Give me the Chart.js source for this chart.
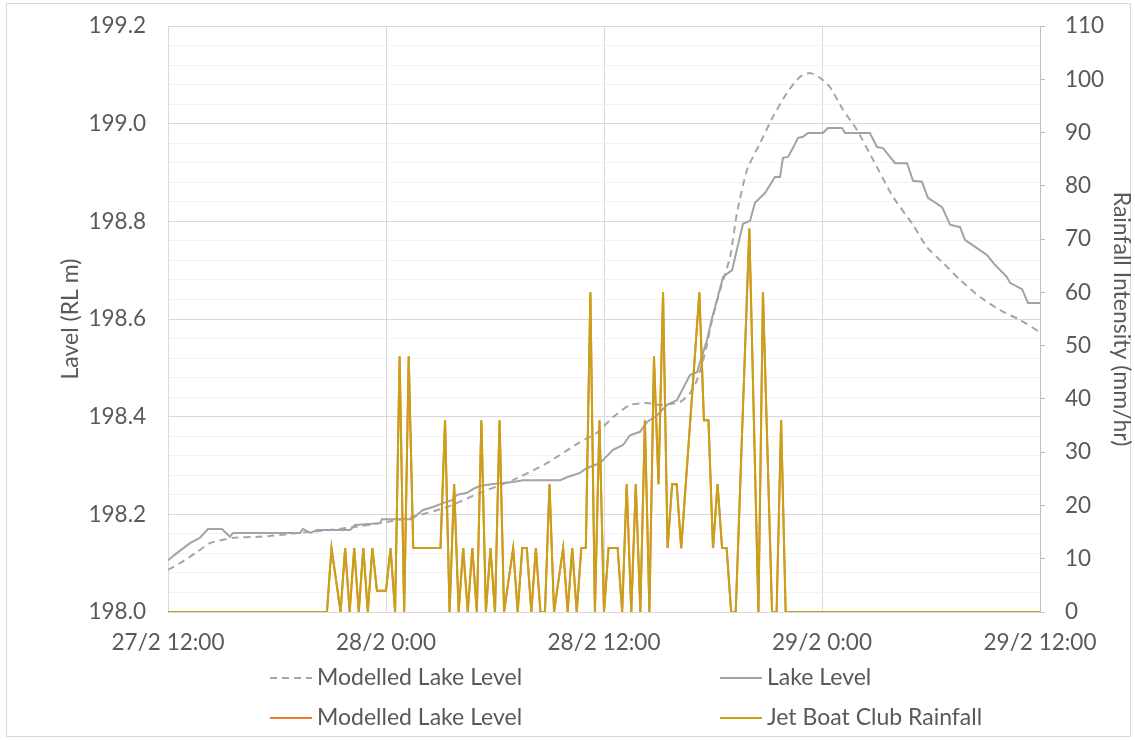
<!DOCTYPE html>
<html>
<head>
<meta charset="utf-8">
<script src="https://cdn.jsdelivr.net/npm/chart.js@4"></script>
<style>
  html, body { margin: 0; padding: 0; background: #fff; }
  #wrap { position: relative; width: 1135px; height: 740px; }
  #frame { position: absolute; left: 6px; top: 3px; width: 1125px; height: 734px; border: 1px solid #d9d9d9; box-sizing: border-box; }
  canvas { position: absolute; left: 0; top: 0; }
</style>
</head>
<body>
<div id="wrap">
  <div id="frame"></div>
  <canvas id="lakeChart" width="1135" height="740"></canvas>
</div>
<script>
// hours after 27/2 12:00
const xTickLabels = ['27/2 12:00', '28/2 0:00', '28/2 12:00', '29/2 0:00', '29/2 12:00'];

const modelTimes = [0, 0.66, 1.6, 2.31, 3.58, 5.06, 7.27, 9.85, 11.67, 13.49, 15.36, 17.17, 18.99, 20.86, 22.68,
  23.61, 24.5, 25.43, 26.37, 27.08, 28.18, 28.73, 29.12, 29.56, 29.95, 30.39, 30.94, 31.32, 31.87, 32.59, 33.3,
  34.07, 34.79, 35.34, 35.89, 36.44, 37.16, 37.93, 38.81, 39.91, 41.01, 41.78, 42.66, 43.6, 44.7, 45.8, 46.9, 48];
const modelLevel = [198.086, 198.100, 198.123, 198.141, 198.152, 198.154, 198.162, 198.172, 198.182, 198.195, 198.215,
  198.244, 198.270, 198.305, 198.348, 198.367, 198.399, 198.424, 198.428, 198.424, 198.430, 198.448, 198.475, 198.530,
  198.598, 198.659, 198.727, 198.817, 198.905, 198.960, 199.014, 199.063, 199.096, 199.104, 199.094, 199.075, 199.028,
  198.987, 198.926, 198.850, 198.793, 198.747, 198.715, 198.680, 198.645, 198.618, 198.598, 198.573];

const lakeTimes = [0, 0.5, 1.21, 1.76, 2.2, 2.97, 3.41, 3.58, 7.27, 7.43, 7.82, 8.2, 10.02, 10.29, 11.67, 11.78, 13.43,
  13.71, 14.04, 14.59, 15.14, 15.63, 15.91, 16.46, 16.9, 17.17, 17.89, 18.99, 19.54, 21.58, 21.96, 22.68, 23.06, 23.78,
  23.94, 24.5, 25.05, 25.43, 25.98, 26.37, 26.92, 27.47, 28.02, 28.73, 29.12, 29.67, 29.95, 30.22, 30.55, 31.05, 31.65,
  32.04, 32.31, 32.86, 33.41, 33.69, 33.85, 34.13, 34.4, 34.68, 34.95, 35.23, 36.05, 36.33, 37.1, 37.27, 38.64, 39.03,
  39.36, 39.74, 40.02, 40.68, 41.01, 41.5, 41.83, 42.61, 43.05, 43.6, 43.87, 44.53, 45.08, 45.52, 46.18, 46.35, 47.01,
  47.34, 48];
const lakeLevel = [198.106, 198.121, 198.141, 198.152, 198.170, 198.170, 198.154, 198.162, 198.162, 198.170, 198.162,
  198.168, 198.168, 198.178, 198.182, 198.190, 198.190, 198.199, 198.209, 198.215, 198.223, 198.229, 198.240, 198.244,
  198.254, 198.258, 198.262, 198.266, 198.270, 198.270, 198.276, 198.285, 198.295, 198.305, 198.311, 198.332, 198.342,
  198.362, 198.369, 198.389, 198.403, 198.424, 198.434, 198.485, 198.491, 198.557, 198.602, 198.639, 198.686, 198.700,
  198.795, 198.801, 198.838, 198.858, 198.891, 198.891, 198.930, 198.932, 198.950, 198.971, 198.973, 198.981, 198.981,
  198.991, 198.991, 198.981, 198.981, 198.952, 198.950, 198.932, 198.919, 198.919, 198.883, 198.881, 198.848, 198.829,
  198.793, 198.788, 198.762, 198.745, 198.731, 198.711, 198.686, 198.674, 198.661, 198.633, 198.633];

const rainTimes = [0, 8.75, 9, 9.5, 9.75, 10, 10.25, 10.5, 10.75, 11, 11.25, 11.5, 12, 12.25, 12.5, 12.75, 13, 13.25,
  13.5, 15, 15.25, 15.5, 15.75, 16, 16.25, 16.5, 16.75, 17, 17.25, 17.5, 17.75, 18, 18.25, 18.5, 19, 19.25, 19.5, 19.75,
  20, 20.25, 20.5, 20.75, 21, 21.25, 21.75, 22, 22.25, 22.5, 22.75, 23, 23.25, 23.5, 23.75, 24, 24.25, 24.75, 25, 25.25,
  25.5, 25.75, 26, 26.25, 26.5, 26.75, 27, 27.25, 27.5, 27.75, 28, 28.25, 29.25, 29.5, 29.75, 30, 30.25, 30.5, 30.75,
  31, 31.25, 32, 32.5, 32.75, 33.25, 33.5, 33.75, 34, 48];
const rainfall = [0, 0, 12, 0, 12, 0, 12, 0, 12, 0, 12, 4, 4, 12, 0, 48, 0, 48,
  12, 12, 36, 0, 24, 0, 12, 0, 12, 0, 36, 0, 12, 0, 36, 0, 12, 0, 12, 12,
  0, 12, 0, 0, 24, 0, 12, 0, 12, 0, 12, 12, 60, 0, 36, 0, 12, 12, 0, 24,
  0, 24, 0, 36, 0, 48, 24, 60, 12, 24, 24, 12, 60, 36, 36, 12, 24, 12, 12,
  0, 0, 72, 0, 60, 0, 0, 36, 0, 0];

const FONT = "Lato, 'Open Sans', sans-serif";
const TEXT = '#595959';
Chart.defaults.font.family = FONT;
Chart.defaults.color = TEXT;

const pts = (xs, ys) => xs.map((x, i) => ({ x: x, y: ys[i] }));

// axis boxes: fixed sizes so the plot area lands where the original is
const fixWidth = (w) => (s) => { s.width = w; s.paddingTop = 0; s.paddingBottom = 0; };
const fixHeight = (h) => (s) => { s.height = h; s.paddingLeft = 0; s.paddingRight = 0; };

// legend sits in a 2 x 2 grid under the x axis
const legendSpots = [[270, 678], [720, 678], [270, 718], [720, 718]];
const gridLegend = {
  id: 'gridLegend',
  afterDraw(chart) {
    const ctx = chart.ctx;
    chart.data.datasets.forEach((ds, i) => {
      const [x, y] = legendSpots[i];
      ctx.save();
      ctx.strokeStyle = ds.borderColor;
      ctx.lineWidth = 2;
      ctx.setLineDash(ds.borderDash || []);
      ctx.beginPath();
      ctx.moveTo(x, y);
      ctx.lineTo(x + 42, y);
      ctx.stroke();
      ctx.setLineDash([]);
      ctx.fillStyle = TEXT;
      ctx.font = '23px ' + FONT;
      ctx.textBaseline = 'middle';
      ctx.fillText(ds.label, x + 47, y);
      ctx.restore();
    });
  }
};

new Chart(document.getElementById('lakeChart').getContext('2d'), {
  type: 'line',
  data: {
    datasets: [
      {
        label: 'Modelled Lake Level',
        data: pts(modelTimes, modelLevel),
        yAxisID: 'y',
        borderColor: '#a6a6a6',
        borderWidth: 2,
        borderDash: [7, 5],
        tension: 0.2,
        order: 3
      },
      {
        label: 'Lake Level',
        data: pts(lakeTimes, lakeLevel),
        yAxisID: 'y',
        borderColor: '#a3a3a3',
        borderWidth: 2,
        order: 2
      },
      {
        label: 'Modelled Lake Level',
        data: pts(rainTimes, rainfall),
        yAxisID: 'y1',
        borderColor: '#ed7d31',
        borderWidth: 2,
        order: 1
      },
      {
        label: 'Jet Boat Club Rainfall',
        data: pts(rainTimes, rainfall),
        yAxisID: 'y1',
        borderColor: '#c9a01a',
        borderWidth: 2,
        order: 0
      }
    ]
  },
  options: {
    responsive: false,
    animation: false,
    events: [],
    layout: { padding: { top: 26, left: 0, right: 0, bottom: 0 } },
    elements: { point: { radius: 0 }, line: { borderJoinStyle: 'miter' } },
    plugins: { legend: { display: false }, tooltip: { enabled: false } },
    scales: {
      x: {
        type: 'linear',
        min: 0,
        max: 48,
        ticks: {
          stepSize: 12,
          autoSkip: false,
          maxRotation: 0,
          padding: 17,
          font: { size: 22.5 },
          callback: (v) => xTickLabels[Math.round(v / 12)]
        },
        grid: { color: '#d9d9d9', drawTicks: false },
        border: { display: false },
        afterFit: fixHeight(128)
      },
      yMinor: {
        position: 'left',
        min: 198,
        max: 199.2,
        ticks: { display: false, stepSize: 0.04 },
        grid: { color: '#f3f3f3', drawTicks: false },
        border: { display: false },
        afterFit: fixWidth(0)
      },
      y: {
        position: 'left',
        min: 198,
        max: 199.2,
        ticks: {
          stepSize: 0.2,
          padding: 22,
          font: { size: 22.5 },
          callback: (v) => v.toFixed(1)
        },
        grid: { color: '#d9d9d9', drawTicks: false },
        border: { color: '#d9d9d9' },
        title: { display: true, text: 'Lavel (RL m)', font: { size: 23 }, padding: { top: 57, bottom: 0 } },
        afterFit: fixWidth(168)
      },
      y1: {
        position: 'right',
        min: 0,
        max: 110,
        ticks: { stepSize: 10, padding: 20, font: { size: 22.5 } },
        grid: { drawOnChartArea: false, color: '#bfbfbf', tickLength: 5 },
        border: { color: '#bfbfbf' },
        title: { display: true, text: 'Rainfall Intensity (mm/hr)', font: { size: 23 }, padding: { top: 0, bottom: 0 } },
        afterFit: fixWidth(95)
      }
    }
  },
  plugins: [gridLegend]
});
</script>
</body>
</html>
